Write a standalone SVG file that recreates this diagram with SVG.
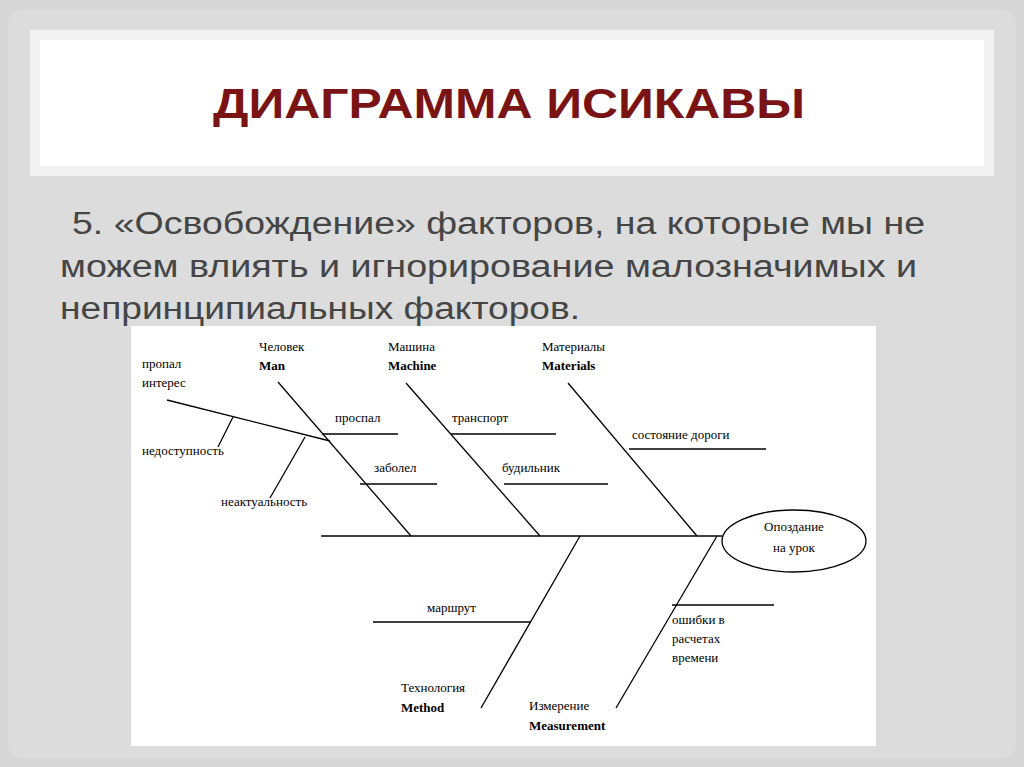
<svg xmlns="http://www.w3.org/2000/svg" width="1024" height="767" viewBox="0 0 1024 767">
<style>
.l{stroke:#000;stroke-width:1.3;fill:none}
.t{font-family:"Liberation Serif",serif;font-size:13px;fill:#000}
.b{font-weight:bold}
.body{font-family:"Liberation Sans",sans-serif;font-size:31px;fill:#454545}
</style>
<rect width="1024" height="767" fill="#d6d6d6"/>
<rect x="8" y="10" width="1008" height="748" rx="14" fill="#dcdcdc"/>
<rect x="30" y="30" width="964" height="146" fill="#f2f2f2"/>
<rect x="40" y="40" width="944" height="126" fill="#ffffff"/>
<text x="213" y="118" textLength="592" lengthAdjust="spacingAndGlyphs" font-family="Liberation Sans,sans-serif" font-weight="bold" font-size="42" fill="#7a1414">ДИАГРАММА ИСИКАВЫ</text>
<text class="body" x="72" y="234" textLength="853" lengthAdjust="spacingAndGlyphs">5. «Освобождение» факторов, на которые мы не</text>
<text class="body" x="60" y="277" textLength="857" lengthAdjust="spacingAndGlyphs">можем влиять и игнорирование малозначимых и</text>
<text class="body" x="60" y="319" textLength="520" lengthAdjust="spacingAndGlyphs">непринципиальных факторов.</text>
<rect x="131" y="326" width="745" height="420" fill="#fff"/>
<g id="connectors">
<line class="l" x1="321" y1="536" x2="722" y2="536"/>
<line class="l" x1="278" y1="382" x2="411" y2="536"/>
<line class="l" x1="406" y1="383" x2="540" y2="536"/>
<line class="l" x1="568" y1="383" x2="697" y2="536"/>
<line class="l" x1="580" y1="536" x2="481" y2="708"/>
<line class="l" x1="717" y1="536" x2="616" y2="708"/>
<line class="l" x1="322" y1="434" x2="398" y2="434"/>
<line class="l" x1="360" y1="484" x2="437" y2="484"/>
<line class="l" x1="451" y1="434" x2="556" y2="434"/>
<line class="l" x1="504" y1="484" x2="608" y2="484"/>
<line class="l" x1="629" y1="449" x2="766" y2="449"/>
<line class="l" x1="373" y1="622" x2="531" y2="622"/>
<line class="l" x1="672" y1="605" x2="774" y2="605"/>
<line class="l" x1="167" y1="400" x2="330" y2="441"/>
<line class="l" x1="233" y1="417" x2="218" y2="447"/>
<line class="l" x1="305" y1="437" x2="270" y2="498"/>
</g>
<g id="effect"><ellipse class="l" cx="794" cy="541" rx="72" ry="31"/>
<text class="t" text-anchor="middle"><tspan x="794" y="531">Опоздание</tspan><tspan x="794" y="552">на урок</tspan></text></g>
<g id="man"><text class="t"><tspan x="259" y="351">Человек</tspan><tspan x="259" y="370" class="b">Man</tspan></text></g>
<g id="machine"><text class="t"><tspan x="388" y="351">Машина</tspan><tspan x="388" y="370" class="b">Machine</tspan></text></g>
<g id="materials"><text class="t"><tspan x="542" y="351">Материалы</tspan><tspan x="542" y="370" class="b">Materials</tspan></text></g>
<g id="method"><text class="t"><tspan x="401" y="692">Технология</tspan><tspan x="401" y="712" class="b">Method</tspan></text></g>
<g id="measurement"><text class="t"><tspan x="529" y="710">Измерение</tspan><tspan x="529" y="730" class="b">Measurement</tspan></text></g>
<g id="causes">
<text class="t"><tspan x="142" y="368">пропал</tspan><tspan x="142" y="387">интерес</tspan></text>
<text class="t" x="142" y="455">недоступность</text>
<text class="t" x="221" y="506">неактуальность</text>
<text class="t" x="335" y="422">проспал</text>
<text class="t" x="374" y="472">заболел</text>
<text class="t" x="452" y="422">транспорт</text>
<text class="t" x="502" y="472">будильник</text>
<text class="t" x="632" y="439">состояние дороги</text>
<text class="t" x="427" y="612">маршрут</text>
<text class="t"><tspan x="672" y="624">ошибки в</tspan><tspan x="672" y="643">расчетах</tspan><tspan x="672" y="662">времени</tspan></text>
</g>
</svg>
